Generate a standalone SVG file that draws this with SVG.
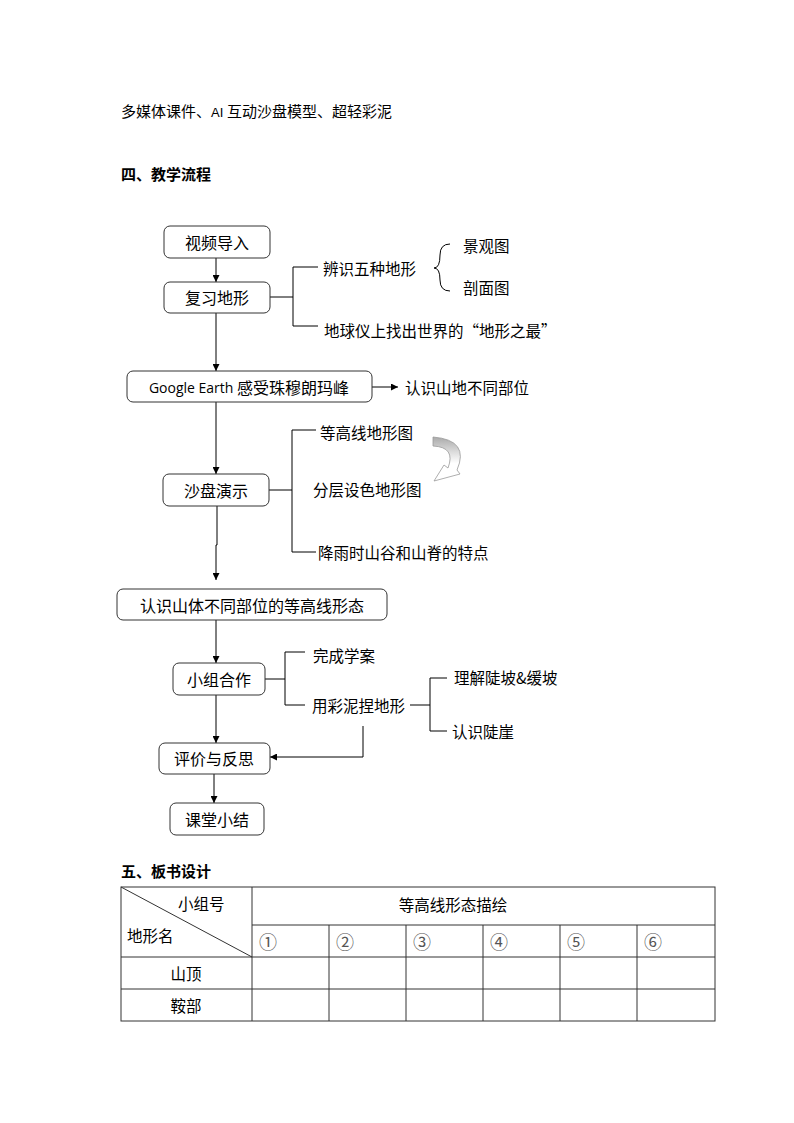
<svg xmlns="http://www.w3.org/2000/svg" width="794" height="1123" viewBox="0 0 794 1123">
<defs>
<marker id="ah" viewBox="0 0 10 10" refX="10" refY="5" markerWidth="7" markerHeight="7" orient="auto" markerUnits="userSpaceOnUse">
<path d="M0,0 L10,5 L0,10 Z" fill="#000"/>
</marker>
<linearGradient id="cg" x1="0" y1="0" x2="0" y2="1">
<stop offset="0" stop-color="#aaa"/>
<stop offset="0.35" stop-color="#ddd"/>
<stop offset="0.6" stop-color="#fff"/>
<stop offset="1" stop-color="#fff"/>
</linearGradient>
</defs>
<style>
text{font-family:"Noto Sans CJK SC","Liberation Sans",sans-serif;fill:#000;}
.b{font-size:15px;}
.h{font-size:15px;font-weight:bold;}
.n{font-size:16px;text-anchor:middle;dominant-baseline:central;}
.s{font-size:15.5px;dominant-baseline:central;}
.t{font-size:15.5px;dominant-baseline:central;}
.tc{text-anchor:middle;}
.box{fill:#fff;stroke:#333;stroke-width:1;}
.ln{fill:none;stroke:#000;stroke-width:1;}
.tb{fill:none;stroke:#333;stroke-width:1;}
.circ{font-family:"Noto Sans CJK SC","DejaVu Sans",sans-serif;font-size:18px;dominant-baseline:central;fill:#555;}
</style>
<rect width="794" height="1123" fill="#fff"/>
<text class="b" x="121" y="117">多媒体课件、<tspan font-family="Liberation Sans" font-size="13">AI </tspan>互动沙盘模型、超轻彩泥</text>
<text class="h" x="121" y="180">四、教学流程</text>

<g id="connectors">
<line class="ln" x1="216" y1="258" x2="216" y2="282" marker-end="url(#ah)"/>
<polyline class="ln" points="270,297 293,297"/>
<polyline class="ln" points="318,267 293,267 293,326 318,326"/>
<path class="ln" d="M450,244 Q440,244 440,255 Q440,268 434,268 Q440,268 440,280 Q440,291 450,291"/>
<line class="ln" x1="216" y1="313" x2="216" y2="371" marker-end="url(#ah)"/>
<line class="ln" x1="372" y1="387" x2="398" y2="387" marker-end="url(#ah)"/>
<line class="ln" x1="216" y1="402" x2="216" y2="474" marker-end="url(#ah)"/>
<polyline class="ln" points="269,490 292,490"/>
<polyline class="ln" points="316,430 292,430 292,552 316,552"/>
<polyline class="ln" points="217,506 217,545 216,545 216,580" marker-end="url(#ah)"/>
<line class="ln" x1="216" y1="620" x2="216" y2="663" marker-end="url(#ah)"/>
<polyline class="ln" points="265,679 285,679"/>
<polyline class="ln" points="305,652 285,652 285,705 305,705"/>
<polyline class="ln" points="410,705 430,705"/>
<polyline class="ln" points="447,678 430,678 430,731 447,731"/>
<line class="ln" x1="216" y1="695" x2="216" y2="743" marker-end="url(#ah)"/>
<polyline class="ln" points="363,726 363,757 270,757" marker-end="url(#ah)"/>
<line class="ln" x1="214" y1="774" x2="214" y2="803" marker-end="url(#ah)"/>
<path d="M433,437 Q470,440 457,470 L460,474 L434,481 L444,465 L448,468 Q456,447 433,446 Z" fill="url(#cg)" stroke="#999" stroke-width="0.8"/>
</g>

<g id="n1"><rect class="box" x="164" y="226" width="106" height="32" rx="6"/><text class="n" x="217" y="242">视频导入</text></g>
<g id="n2"><rect class="box" x="164" y="282" width="106" height="31" rx="6"/><text class="n" x="217" y="297">复习地形</text></g>
<g id="n2a"><text class="s" x="323" y="268">辨识五种地形</text></g>
<g id="n2a1"><text class="s" x="463" y="245">景观图</text></g>
<g id="n2a2"><text class="s" x="463" y="287">剖面图</text></g>
<g id="n2b"><text class="s" x="324" y="330">地球仪上找出世界的“地形之最”</text></g>
<g id="n3"><rect class="box" x="127" y="371" width="245" height="31" rx="6"/><text class="n" x="249" y="387"><tspan font-family="Open Sans" font-size="14">Google Earth </tspan>感受珠穆朗玛峰</text></g>
<g id="n3a"><text class="s" x="405" y="387">认识山地不同部位</text></g>
<g id="n4"><rect class="box" x="163" y="474" width="106" height="32" rx="6"/><text class="n" x="216" y="490">沙盘演示</text></g>
<g id="n4a"><text class="s" x="320" y="432">等高线地形图</text></g>
<g id="n4b"><text class="s" x="313" y="489">分层设色地形图</text></g>
<g id="n4c"><text class="s" x="318" y="552">降雨时山谷和山脊的特点</text></g>
<g id="n5"><rect class="box" x="117" y="589" width="270" height="31" rx="6"/><text class="n" x="252" y="605">认识山体不同部位的等高线形态</text></g>
<g id="n6"><rect class="box" x="173" y="663" width="92" height="32" rx="6"/><text class="n" x="219" y="679">小组合作</text></g>
<g id="n6a"><text class="s" x="313" y="655">完成学案</text></g>
<g id="n6b"><text class="s" x="312" y="705">用彩泥捏地形</text></g>
<g id="n6b1"><text class="s" x="454" y="677">理解陡坡&amp;缓坡</text></g>
<g id="n6b2"><text class="s" x="452" y="731">认识陡崖</text></g>
<g id="n7"><rect class="box" x="159" y="743" width="111" height="31" rx="6"/><text class="n" x="214" y="758">评价与反思</text></g>
<g id="n8"><rect class="box" x="170" y="803" width="94" height="32" rx="6"/><text class="n" x="217" y="819">课堂小结</text></g>

<text class="h" x="121" y="877">五、板书设计</text>
<g id="table">
<rect class="tb" x="121" y="887" width="594" height="134"/>
<line class="tb" x1="252" y1="887" x2="252" y2="1021"/>
<line class="tb" x1="252" y1="925" x2="715" y2="925"/>
<line class="tb" x1="121" y1="957" x2="715" y2="957"/>
<line class="tb" x1="121" y1="989" x2="715" y2="989"/>
<line class="tb" x1="329" y1="925" x2="329" y2="1021"/>
<line class="tb" x1="406" y1="925" x2="406" y2="1021"/>
<line class="tb" x1="483" y1="925" x2="483" y2="1021"/>
<line class="tb" x1="560" y1="925" x2="560" y2="1021"/>
<line class="tb" x1="637" y1="925" x2="637" y2="1021"/>
<line class="tb" x1="121" y1="887" x2="252" y2="957" stroke="#555" stroke-width="1"/>
<text class="t" x="178" y="903">小组号</text>
<text class="t" x="127" y="935">地形名</text>
<text class="t tc" x="453" y="904">等高线形态描绘</text>
<text class="circ" x="259" y="941">①</text>
<text class="circ" x="336" y="941">②</text>
<text class="circ" x="413" y="941">③</text>
<text class="circ" x="490" y="941">④</text>
<text class="circ" x="567" y="941">⑤</text>
<text class="circ" x="644" y="941">⑥</text>
<text class="t tc" x="186" y="973">山顶</text>
<text class="t tc" x="186" y="1005">鞍部</text>
</g>
</svg>
